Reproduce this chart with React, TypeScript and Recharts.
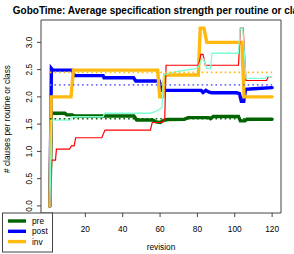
import { LineChart, Line, XAxis, YAxis, ReferenceLine, ReferenceArea } from "recharts";

type Pt = { x: number; y: number };
const pts = (rows: number[][]): Pt[] => rows.map(([x, y]) => ({ x, y }));

// [revision, clauses]
const preAvg = pts([
  [1, 0], [1.8, 1.7], [9, 1.7], [10, 1.67], [13, 1.67], [14, 1.65], [46, 1.65],
  [47.5, 1.575], [56, 1.575], [58, 1.54], [60, 1.53], [62, 1.57], [64, 1.585],
  [73, 1.59], [75, 1.62], [86, 1.62], [87, 1.6], [88.5, 1.64], [102, 1.64],
  [103, 1.56], [105.5, 1.56], [106.5, 1.59], [120, 1.59],
]);
const postAvg = pts([
  [1, 0], [1.8, 2.52], [2.5, 2.49], [12.9, 2.49], [14.2, 2.39], [29.5, 2.39],
  [30, 2.35], [45.8, 2.35], [47, 2.29], [59.5, 2.29], [61, 2.12], [82, 2.12],
  [83, 2.08], [84.5, 2.12], [86, 2.09], [87.5, 2.075], [101, 2.075], [102.5, 2.06],
  [103.5, 1.92], [104.8, 1.92], [105.8, 2.14], [110, 2.15], [120, 2.17],
]);
const invAvg = pts([
  [1, 0], [1.7, 2.0], [12.3, 2.0], [13.6, 2.49], [58.7, 2.49], [59.8, 2.0],
  [61.5, 2.0], [62.5, 2.4], [80.5, 2.4], [81.5, 3.26], [83.5, 3.26], [85, 3.0],
  [103.8, 3.0], [105, 2.0], [120, 2.0],
]);
const redLine = pts([
  [1, 0], [2, 0.84], [4, 0.84], [4.5, 1.04], [11.5, 1.04], [12.5, 1.1], [14, 1.1],
  [14.8, 1.25], [28.8, 1.25], [30.5, 1.39], [54.8, 1.39], [55.8, 1.53], [61, 1.53],
  [62.5, 1.59], [63.2, 2.58], [80.6, 2.58], [81.9, 2.78], [83, 2.78], [84.2, 2.58],
  [102, 2.58], [103, 3.26], [104.5, 3.26], [106, 2.3], [117, 2.3], [118, 2.37], [120, 2.37],
]);
const aquaLine = pts([
  [1, 0], [2, 1.575], [12, 1.575], [12.8, 1.635], [29.5, 1.635], [30.3, 1.7], [55, 1.7],
  [58, 1.74], [61, 1.8], [62, 2.4], [64, 2.43], [70, 2.47], [78.8, 2.52], [80.5, 2.55],
  [82.4, 2.7], [83.2, 2.7], [85, 2.52], [87, 2.52], [87.8, 2.8], [102, 2.8], [102.9, 3.26],
  [104.3, 3.26], [106, 2.34], [116.3, 2.34], [117, 2.37], [120, 2.37],
]);
const means = { pre: 1.6, post: 2.22, inv: 2.45 };

// the 0 tick sits under the legend in the original, so it is left out
const xTicks = [20, 40, 60, 80, 100, 120];
const yTicks = [0, 0.5, 1, 1.5, 2, 2.5, 3];
const xDomain: [number, number] = [-3.76, 124.76];
const yDomain: [number, number] = [-0.13, 3.41];

const FONT = '"Liberation Sans", Arial, sans-serif';
const colors = { pre: "#006400", post: "#0000ff", inv: "#ffb90f", red: "#ff0000", aqua: "#7fffd4" };
const legendItems = [
  { label: "pre", color: colors.pre },
  { label: "post", color: colors.post },
  { label: "inv", color: colors.inv },
];

const YTick = (props: any) => {
  const { y, payload } = props;
  return (
    <text x={32} y={y} transform={`rotate(-90, 32, ${y})`} textAnchor="middle" fontSize={8.3} fontFamily={FONT} fill="#000">
      {Number(payload.value).toFixed(1)}
    </text>
  );
};

const XTick = (props: any) => {
  const { x, payload } = props;
  return (
    <text x={x} y={232} textAnchor="middle" fontSize={8.3} fontFamily={FONT} fill="#000">
      {payload.value}
    </text>
  );
};

export default function App() {
  const thick = 3.4;
  return (
    <div style={{ position: "absolute", left: 0, top: 0, width: 294, height: 254, background: "#fff" }}>
      <LineChart width={294} height={254} margin={{ top: 20, right: 13, bottom: 0, left: 0 }}>
        <XAxis
          type="number"
          dataKey="x"
          domain={xDomain}
          ticks={xTicks}
          allowDataOverflow
          height={41}
          tick={XTick}
          tickSize={4}
          tickLine={{ stroke: "#444" }}
          axisLine={false}
        />
        <YAxis
          type="number"
          dataKey="y"
          domain={yDomain}
          ticks={yTicks}
          allowDataOverflow
          width={41}
          tick={YTick}
          tickSize={4}
          tickLine={{ stroke: "#444" }}
          axisLine={false}
        />
        <ReferenceArea x1={xDomain[0]} x2={xDomain[1]} y1={yDomain[0]} y2={yDomain[1]} fill="none" fillOpacity={0} stroke="#444" strokeWidth={1} />
        <Line data={preAvg} dataKey="y" stroke={colors.pre} strokeWidth={thick} dot={false} isAnimationActive={false} strokeLinecap="round" />
        <Line data={postAvg} dataKey="y" stroke={colors.post} strokeWidth={thick} dot={false} isAnimationActive={false} strokeLinecap="round" />
        <Line data={invAvg} dataKey="y" stroke={colors.inv} strokeWidth={thick} dot={false} isAnimationActive={false} strokeLinecap="round" />
        <Line data={redLine} dataKey="y" stroke={colors.red} strokeWidth={1.2} dot={false} isAnimationActive={false} />
        <Line data={aquaLine} dataKey="y" stroke={colors.aqua} strokeWidth={1.3} dot={false} isAnimationActive={false} />
        <ReferenceLine segment={[{ x: 1, y: means.pre }, { x: 120, y: means.pre }]} stroke={colors.pre} strokeWidth={1.6} strokeDasharray="1.6 3" />
        <ReferenceLine segment={[{ x: 1, y: means.post }, { x: 120, y: means.post }]} stroke="#7070ff" strokeWidth={1.6} strokeDasharray="1.6 3" />
        <ReferenceLine segment={[{ x: 1, y: means.inv }, { x: 120, y: means.inv }]} stroke={colors.inv} strokeWidth={1.6} strokeDasharray="1.6 3" />
      </LineChart>
      <svg width={294} height={254} style={{ position: "absolute", left: 0, top: 0, pointerEvents: "none" }}>
        <text x={161} y={14} textAnchor="middle" fontSize={10} fontWeight="bold" fontFamily={FONT} fill="#000">
          GoboTime: Average specification strength per routine or class
        </text>
        <text x={10} y={119} transform="rotate(-90, 10, 119)" textAnchor="middle" fontSize={8.3} fontFamily={FONT} fill="#000">
          # clauses per routine or class
        </text>
        <text x={161} y={250} textAnchor="middle" fontSize={8.3} fontFamily={FONT} fill="#000">
          revision
        </text>
        <rect x={2.5} y={213} width={50} height={39} fill="#fff" stroke="#444" strokeWidth={1} />
        {legendItems.map((item, i) => (
          <g key={item.label}>
            <line x1={8} x2={26} y1={221 + i * 10.3} y2={221 + i * 10.3} stroke={item.color} strokeWidth={thick} />
            <text x={32} y={224 + i * 10.3} fontSize={8.3} fontFamily={FONT} fill="#000">
              {item.label}
            </text>
          </g>
        ))}
      </svg>
    </div>
  );
}
